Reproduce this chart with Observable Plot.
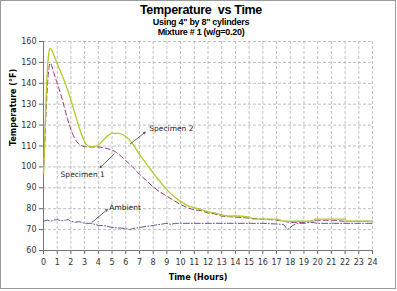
<!DOCTYPE html>
<html>
<head>
<meta charset="utf-8">
<script src="https://cdn.jsdelivr.net/npm/d3@7"></script>
<script src="https://cdn.jsdelivr.net/npm/@observablehq/plot@0.6"></script>
<style>
  html, body { margin: 0; padding: 0; background: #fff; }
  #chart { position: relative; width: 397px; height: 291px; overflow: hidden; font-family: "DejaVu Sans", sans-serif; }
  #border { position: absolute; left: 0; top: 0; width: 394px; height: 287px; border: 1px solid #9a9a9a; pointer-events: none; }
  .ttl { position: absolute; left: 0; width: 402px; text-align: center; font-weight: bold; color: #000; white-space: pre; letter-spacing: -0.3px; font-family: "Liberation Sans", Arial, sans-serif; }
  #t1 { top: 3px; font-size: 12.5px; }
  #t2 { top: 17px; font-size: 9px; }
  #t3 { top: 27px; font-size: 9px; }
  #chart svg { position: absolute; left: 0; top: 0; overflow: visible; }
</style>
</head>
<body>
<div id="chart">
  <div class="ttl" id="t1">Temperature  vs Time</div>
  <div class="ttl" id="t2">Using 4" by 8" cylinders</div>
  <div class="ttl" id="t3">Mixture # 1 (w/g=0.20)</div>
  <div id="border"></div>
</div>
<script>
// Time axis (hours) and temperature axis (°F) ticks
const hourTicks = d3.range(0, 25);
const tempTicks = d3.range(60, 161, 10);

// Specimen 2 (solid yellow-green)
const spec2Time = [0, 0.1, 0.2, 0.3, 0.4, 0.5, 0.6, 0.75, 1, 1.25, 1.5, 1.75, 2, 2.25, 2.5, 2.75, 3, 3.25, 3.5, 3.75, 4, 4.25, 4.5, 4.75, 5, 5.5, 5.75, 6, 6.5, 7, 7.5, 8, 8.5, 9, 9.5, 10, 10.5, 11, 11.5, 12, 12.5, 13, 13.5, 14, 15, 15.3, 16, 17, 17.5, 18, 19, 19.7, 19.8, 21, 22, 22.1, 23, 24];
const spec2Temp = [97, 115, 135, 148, 155, 156.7, 156, 153.5, 149.5, 145.5, 141.5, 137, 132, 126.5, 121, 116, 112, 110, 109.5, 109.7, 110.5, 112, 113.8, 115.2, 116, 116, 115.5, 114.5, 111, 106, 101.5, 97, 93, 89, 86, 83.5, 81.5, 80.5, 79.5, 78.5, 78, 77, 76.5, 76.5, 76, 75, 75, 75, 74, 74, 74, 74, 75, 75, 75, 74, 74, 74];

// Specimen 1 (dashed plum)
const spec1Time = [0, 0.1, 0.2, 0.3, 0.4, 0.5, 0.6, 0.75, 1, 1.25, 1.5, 1.75, 2, 2.25, 2.5, 2.75, 3, 3.5, 4, 4.5, 5, 5.3, 5.5, 6, 6.5, 7, 7.5, 8, 8.5, 9, 9.5, 10, 10.5, 11, 11.5, 12, 12.5, 13, 14, 15, 16, 17, 17.5, 18, 19, 19.5, 20, 21, 22, 24];
const spec1Temp = [97, 112, 128, 140, 147.5, 149.7, 148.5, 145, 140, 135, 129, 123, 118, 114, 111.5, 110.3, 109.7, 109.5, 109.5, 109, 108, 107, 106, 103, 100, 96.5, 93.5, 90.5, 88, 86, 84, 82, 80.5, 79.5, 79, 78, 77.5, 76.5, 76, 75.5, 75, 74.5, 74, 73.5, 73.5, 74, 74.5, 74.5, 74, 74];

// Ambient air (dash-dot slate)
const ambTime = [0, 0.3, 0.5, 0.8, 1, 1.3, 1.6, 1.8, 2, 2.3, 2.6, 3, 3.5, 4, 4.5, 5, 5.5, 6, 6.3, 6.5, 7, 7.5, 8, 8.5, 9, 9.3, 9.6, 10, 12, 14, 16, 17.5, 17.8, 18, 18.2, 18.5, 19, 19.5, 20, 22, 24];
const ambTemp = [74, 74.5, 74, 74.5, 74.8, 74.3, 74.5, 74.8, 74, 73.5, 73.8, 73, 73, 72, 71.8, 71, 70.8, 70.5, 70, 70.5, 71, 71.5, 72, 72.5, 73, 72.5, 73, 73, 73, 73, 73, 72.5, 70, 71, 72, 73, 73, 73.5, 73, 73, 73];

// Callout labels: text, text anchor point, arrow start (on curve) and arrow tip
const calloutText = ["Specimen 2", "Specimen 1", "Ambient"];
const calloutX = [7.72, 2.86, 4.8];
const calloutY = [118.2, 96.2, 80.7];
const calloutAnchor = ["start", "middle", "start"];
const arrowX1 = [6.33, 5.16, 3.53];
const arrowY1 = [111, 106.3, 73.4];
const arrowX2 = [7.42, 4.14, 4.65];
const arrowY2 = [116.6, 99.7, 79.6];

const spec2 = spec2Time.map((t, i) => ({t, v: spec2Temp[i]}));
const spec1 = spec1Time.map((t, i) => ({t, v: spec1Temp[i]}));
const amb = ambTime.map((t, i) => ({t, v: ambTemp[i]}));
const callouts = calloutText.map((s, i) => ({
  s, x: calloutX[i], y: calloutY[i], anchor: calloutAnchor[i],
  x1: arrowX1[i], y1: arrowY1[i], x2: arrowX2[i], y2: arrowY2[i]
}));

const chart = Plot.plot({
  width: 397,
  height: 291,
  marginTop: 41,
  marginBottom: 41,
  marginLeft: 43,
  marginRight: 25,
  style: { fontFamily: "DejaVu Sans, sans-serif", fontSize: "8px", color: "#333", background: "transparent" },
  x: { domain: [0, 24] },
  y: { domain: [60, 160] },
  marks: [
    Plot.gridX(hourTicks.slice(1), { stroke: "#b0b0b0", strokeOpacity: 1, strokeDasharray: "3,2", strokeWidth: 0.8 }),
    Plot.gridY(tempTicks.slice(1), { stroke: "#b0b0b0", strokeOpacity: 1, strokeDasharray: "3,2", strokeWidth: 0.8 }),
    Plot.axisX(hourTicks, { tickSize: 4, tickPadding: 5, label: null, stroke: "#666", fill: "#333" }),
    Plot.axisY(tempTicks, { tickSize: 4, tickPadding: 3, label: null, stroke: "#666", fill: "#333" }),
    Plot.ruleX([0], { stroke: "#777", strokeWidth: 1 }),
    Plot.ruleY([60], { stroke: "#777", strokeWidth: 1 }),
    Plot.line(amb, { x: "t", y: "v", stroke: "#5c5c8f", strokeWidth: 1, strokeDasharray: "6,2,1,2" }),
    Plot.line(spec1, { x: "t", y: "v", stroke: "#993366", strokeWidth: 1, strokeDasharray: "5,3", curve: "monotone-x" }),
    Plot.line(spec2, { x: "t", y: "v", stroke: "#b2cc2a", strokeWidth: 1.3, curve: "monotone-x" }),
    Plot.arrow(callouts, { x1: "x1", y1: "y1", x2: "x2", y2: "y2", stroke: "#222", strokeWidth: 0.7, headLength: 4 }),
    Plot.text(callouts, { x: "x", y: "y", text: "s", textAnchor: "start", fill: "#222", fontSize: 7.5, filter: d => d.anchor === "start" }),
    Plot.text(callouts, { x: "x", y: "y", text: "s", textAnchor: "middle", fill: "#222", fontSize: 7.5, filter: d => d.anchor === "middle" }),
    Plot.text(["Time (Hours)"], { frameAnchor: "bottom", dy: 29, dx: -10, fontWeight: "bold", fontSize: 8, fill: "#000" }),
    Plot.text(["Temperature (°F)"], { frameAnchor: "left", dx: -30, rotate: -90, fontWeight: "bold", fontSize: 8, fill: "#000" })
  ]
});
document.getElementById("chart").insertBefore(chart, document.getElementById("border"));
</script>
</body>
</html>
